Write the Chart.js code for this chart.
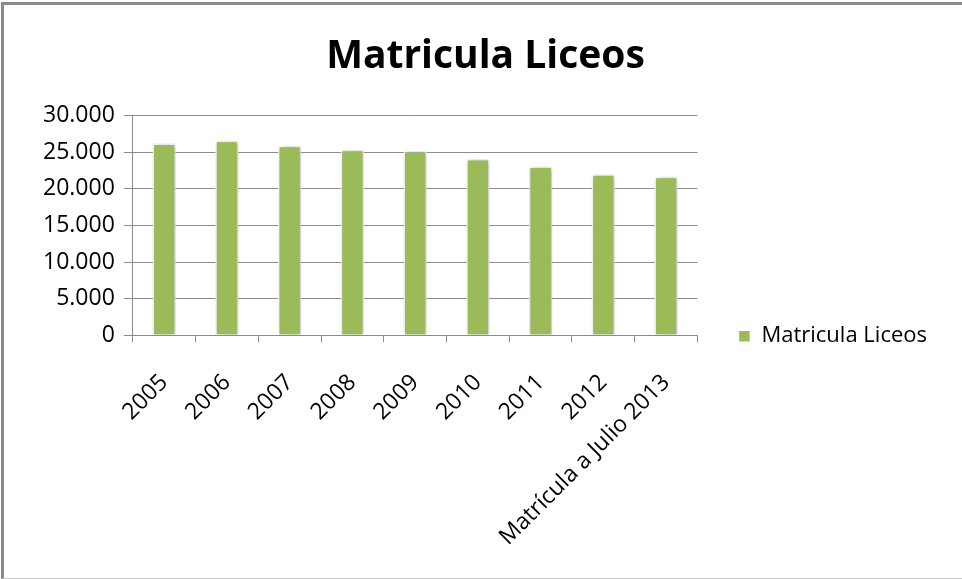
<!DOCTYPE html>
<html>
<head>
<meta charset="utf-8">
<script src="https://cdn.jsdelivr.net/npm/chart.js@4.4.1/dist/chart.umd.min.js"></script>
<style>
  html, body { margin: 0; padding: 0; background: #fff; }
  #wrap { position: relative; width: 962px; height: 579px; }
  #frame {
    position: absolute; left: 1px; top: 2px; right: -4px; bottom: 0px;
    border-left: 3px solid #8a8a8a; border-top: 3px solid #8a8a8a;
    border-bottom: 1px solid #c8c8c8; pointer-events: none;
  }
</style>
</head>
<body>
<div id="wrap">
  <canvas id="myChart" width="962" height="579"></canvas>
  <div id="frame"></div>
</div>
<script>
const categories = ['2005', '2006', '2007', '2008', '2009', '2010', '2011', '2012', 'Matrícula a Julio 2013'];
const matricula = [26200, 26600, 25900, 25350, 25200, 24100, 23050, 22000, 21650];
const yTicks = [0, 5000, 10000, 15000, 20000, 25000, 30000];

const green = '#9bbb59';
const gridGray = '#8c8c8c';
const fontFamily = '"Open Sans", Lato, sans-serif';

// soft drop shadow behind the bars
const barShadow = {
    id: 'barShadow',
    beforeDatasetsDraw(chart) {
        const ctx = chart.ctx;
        ctx.save();
        ctx.shadowColor = 'rgba(0,0,0,0.35)';
        ctx.shadowBlur = 5;
        ctx.shadowOffsetX = 1;
        ctx.shadowOffsetY = 1;
    },
    afterDatasetsDraw(chart) {
        chart.ctx.restore();
    }
};

const data = {
    labels: categories,
    datasets: [{
        label: 'Matricula Liceos',
        data: matricula,
        backgroundColor: green,
        borderColor: '#ffffff',
        borderWidth: 1.5,
        barPercentage: 0.37,
        categoryPercentage: 1.0
    }]
};

const config = {
    type: 'bar',
    data: data,
    options: {
        responsive: false,
        animation: false,
        layout: {
            padding: { left: 34, right: 25, top: 0, bottom: 1 }
        },
        scales: {
            x: {
                grid: {
                    drawOnChartArea: false,
                    color: gridGray,
                    tickLength: 7
                },
                border: { color: gridGray },
                ticks: {
                    color: '#000',
                    font: { family: fontFamily, size: 23 },
                    minRotation: 45,
                    maxRotation: 45,
                    padding: 27,
                    autoSkip: false
                }
            },
            y: {
                min: 0,
                max: 30000,
                afterBuildTicks: function(axis) {
                    axis.ticks = yTicks.map(v => ({ value: v }));
                },
                grid: {
                    color: gridGray,
                    tickLength: 9
                },
                border: { color: gridGray },
                ticks: {
                    color: '#000',
                    padding: 9,
                    font: { family: fontFamily, size: 23 },
                    callback: function(value) {
                        return String(value).replace(/\B(?=(\d{3})+(?!\d))/g, '.');
                    }
                }
            }
        },
        plugins: {
            title: {
                display: true,
                text: 'Matricula Liceos',
                color: '#000',
                font: { family: fontFamily, size: 39, weight: 'bold' },
                padding: { top: 33, bottom: 36 }
            },
            legend: {
                position: 'right',
                maxWidth: 300,
                title: {
                    display: true,
                    text: ' ',
                    padding: { top: 0, bottom: 80 }
                },
                labels: {
                    color: '#000',
                    boxWidth: 12,
                    boxHeight: 12,
                    padding: 41,
                    font: { family: fontFamily, size: 22 }
                }
            },
            tooltip: { enabled: false }
        }
    },
    plugins: [barShadow]
};

// make sure the local fonts are ready before text gets measured
Promise.all([
    document.fonts.load('22px "Open Sans"'),
    document.fonts.load('bold 39px "Open Sans"')
]).catch(() => {}).then(() => {
    const myChart = document.getElementById('myChart');
    new Chart(myChart, config);
});
</script>
</body>
</html>
